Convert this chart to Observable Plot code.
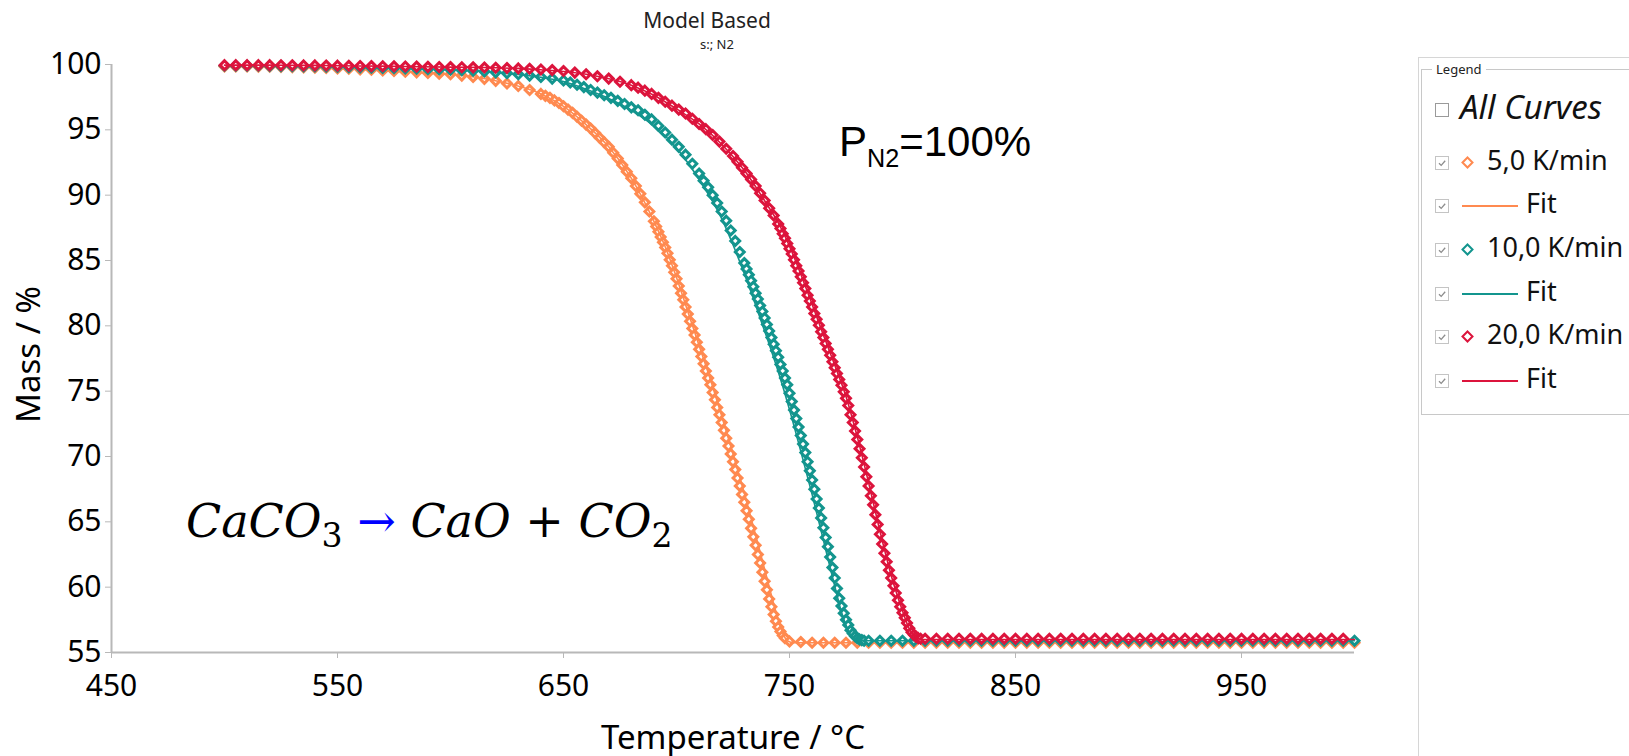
<!DOCTYPE html>
<html>
<head>
<meta charset="utf-8">
<script src="https://cdn.jsdelivr.net/npm/d3@7"></script>
<script src="https://cdn.jsdelivr.net/npm/@observablehq/plot@0.6"></script>
<style>
  html, body { margin: 0; padding: 0; background: #fff; overflow: hidden; }
  #wrap { position: relative; width: 1629px; height: 756px; font-family: "Noto Sans", "Open Sans", sans-serif; }
  #chart { position: absolute; left: 0; top: 0; }
  .abs { position: absolute; white-space: nowrap; }
  .abs svg { display: block; }
  .cb { position: absolute; width: 12px; height: 12px; border: 1px solid #c4c4c4; background: #fff; }
  .cb svg { position: absolute; left: 1px; top: 1px; display: block; }
  .item { position: absolute; font-size: 27px; color: #111; line-height: 1; white-space: nowrap; }
</style>
</head>
<body>
<div id="wrap">
  <div id="chart"></div>
  <div class="abs" id="title" style="left:557px; width:300px; top:6px; text-align:center; font-size:21px; color:#222;">Model Based</div>
  <div class="abs" id="subtitle" style="left:567px; width:300px; top:35px; text-align:center; font-size:13px; color:#222;">s:; N2</div>
  <div class="abs" id="pn2" style="left:839px; top:121px; font-family:'Liberation Sans', Arial, sans-serif; font-size:42px; line-height:1;">P<span style="font-size:0.6em; position:relative; top:0.45em;">N2</span>=100%</div>
  <div class="abs" id="eq" style="left:186px; top:498px; font-family:'DejaVu Serif', serif; font-size:46px; line-height:1; font-style:italic;">CaCO<span style="font-size:0.72em; font-style:normal; position:relative; top:0.3em;">3</span> <span style="color:#0000ff; font-style:normal;">→</span> CaO <span style="font-style:normal;">+</span> CO<span style="font-size:0.72em; font-style:normal; position:relative; top:0.3em;">2</span></div>
  <div id="legendPanel" class="abs" style="left:1418px; top:57px; width:220px; height:710px; border-left:1px solid #d6d6d6; border-top:1px solid #d6d6d6;"></div>
  <div id="legendBox" class="abs" style="left:1421px; top:69px; width:230px; height:344px; border:1px solid #c8c8c8;"></div>
  <div class="abs" style="left:1432px; top:60px; font-size:13px; background:#fff; padding:0 4px; color:#222;">Legend</div>
  <div id="legendItems"></div>
</div>
<script>
// ---- data ----
const seriesNames = ["5,0 K/min", "10,0 K/min", "20,0 K/min"];
const fitName = "Fit";
const allCurvesLabel = "All Curves";
const seriesColors = ["#FF8A50", "#13958E", "#DC143C"];
const xTicks = [450, 550, 650, 750, 850, 950];
const yTicks = [55, 60, 65, 70, 75, 80, 85, 90, 95, 100];
const xLabel = "Temperature / °C";
const yLabel = "Mass / %";

// 5,0 K/min measured points [T °C, mass %]
const rate5 = [
[500,99.85],[505,99.85],[510,99.85],[515,99.84],[520,99.83],[525,99.82],[530,99.8],[535,99.78],[540,99.76],[545,99.73],
[550,99.7],[555,99.67],[560,99.63],[565,99.6],[570,99.55],[575,99.5],[580,99.45],[585,99.4],[590,99.35],[595,99.3],
[600,99.25],[605,99.15],[610,99.05],[615,98.9],[620,98.75],[625,98.55],[630,98.35],[635,98.05],[640,97.75],
[642,97.6],[644,97.45],[646,97.25],[648,97.05],[650,96.8],[652,96.55],[654,96.3],[656,96.0],[658,95.7],[660,95.4],
[662,95.1],[664,94.75],[666,94.4],[668,94.05],[670,93.7],[672,93.25],[674,92.8],[676,92.3],[678,91.8],[680,91.3],
[682,90.7],[684,90.1],[686,89.45],[688,88.75],[690,88.0],
[691,87.6],[692,87.2],[693,86.8],[694,86.4],[695,86.0],[696,85.55],[697,85.05],[698,84.6],[699,84.1],[700,83.6],
[701,83.05],[702,82.5],[703,82.0],[704,81.45],[705,80.9],[706,80.35],[707,79.8],[708,79.3],[709,78.75],[710,78.2],
[711,77.65],[712,77.1],[713,76.55],[714,76.0],[715,75.5],[716,74.9],[717,74.35],[718,73.75],[719,73.2],[720,72.6],
[721,72.0],[722,71.4],[723,70.8],[724,70.2],[725,69.6],[726,69.0],[727,68.35],[728,67.75],[729,67.1],[730,66.5],
[731,65.85],[732,65.2],[733,64.5],[734,63.85],[735,63.2],[736,62.5],[737,61.85],[738,61.15],[739,60.45],[740,59.8],
[741,59.1],[742,58.5],[743,57.9],[744,57.4],[745,56.95],[746,56.6],[747,56.3],[748,56.1],
[750,55.85],[755,55.8],[760,55.75],[765,55.75],[770,55.75],[775,55.75],[780,55.75],[785,55.75],[790,55.75],[795,55.75],
[800,55.75],[805,55.75],[810,55.75],[815,55.75],[820,55.75],[825,55.75],[830,55.75],[835,55.75],[840,55.75],[845,55.75],
[850,55.75],[855,55.75],[860,55.75],[865,55.75],[870,55.75],[875,55.75],[880,55.75],[885,55.75],[890,55.75],[895,55.75],
[900,55.75],[905,55.75],[910,55.75],[915,55.75],[920,55.75],[925,55.75],[930,55.75],[935,55.75],[940,55.75],[945,55.75],
[950,55.75],[955,55.75],[960,55.75],[965,55.75],[970,55.75],[975,55.75],[980,55.75],[985,55.75],[990,55.75],[995,55.75],
[1000,55.75]
];
const fit5 = [
[500,99.85],[520,99.83],[540,99.76],[560,99.63],[580,99.45],[600,99.25],[620,98.75],[640,97.75],[650,96.8],[660,95.4],
[670,93.7],[680,91.3],[690,88.0],[695,86.05],[700,83.7],[705,81.1],[710,78.5],[715,75.9],[720,73.1],[725,70.2],
[730,67.2],[735,64.0],[740,60.7],[744,58.1],[747,56.5],[749,55.9],[752,55.75],[760,55.75],[800,55.75],[850,55.75],
[900,55.75],[950,55.75],[1000,55.75]
];

// 10,0 K/min measured points
const rate10 = [
[500,99.9],[505,99.9],[510,99.9],[515,99.9],[520,99.89],[525,99.88],[530,99.87],[535,99.86],[540,99.85],[545,99.84],
[550,99.82],[555,99.8],[560,99.78],[565,99.76],[570,99.74],[575,99.72],[580,99.7],[585,99.67],[590,99.64],[595,99.62],
[600,99.6],[605,99.56],[610,99.52],[615,99.46],[620,99.4],[625,99.33],[630,99.25],[635,99.15],[640,99.05],[645,98.92],[650,98.78],
[653,98.62],[656,98.45],[659,98.27],[662,98.05],[665,97.85],[668,97.65],[671,97.45],[674,97.22],[677,96.98],[680,96.72],
[683,96.5],[686,96.15],[689,95.8],[692,95.3],[695,94.8],[698,94.25],[701,93.7],[704,93.1],[707,92.4],[710,91.65],
[712,91.1],[714,90.6],[716,90.0],[718,89.4],[720,88.75],[722,88.05],[724,87.3],[726,86.5],[728,85.65],[730,84.8],
[731,84.35],[732,83.9],[733,83.45],[734,83.0],[735,82.5],[736,82.05],[737,81.55],[738,81.1],[739,80.6],[740,80.1],
[741,79.6],[742,79.1],[743,78.6],[744,78.1],[745,77.6],[746,77.05],[747,76.55],[748,76.0],[749,75.5],[750,74.85],
[751,74.2],[752,73.55],[753,72.9],[754,72.25],[755,71.6],[756,70.95],[757,70.3],[758,69.6],[759,68.9],[760,68.2],
[761,67.5],[762,66.75],[763,66.05],[764,65.3],[765,64.55],[766,63.8],[767,63.1],[768,62.3],[769,61.5],[770,60.7],
[771,59.9],[772,59.15],[773,58.55],[774,58.0],[775,57.5],[776,57.1],[777,56.7],[778,56.45],[779,56.25],[780,56.1],
[781,56.0],[782,55.95],[783,55.9],
[785,55.9],[790,55.9],[795,55.9],[800,55.9],[805,55.9],[810,55.9],[815,55.9],[820,55.9],[825,55.9],[830,55.9],
[835,55.9],[840,55.9],[845,55.9],[850,55.9],[855,55.9],[860,55.9],[865,55.9],[870,55.9],[875,55.9],[880,55.9],
[885,55.9],[890,55.9],[895,55.9],[900,55.9],[905,55.9],[910,55.9],[915,55.9],[920,55.9],[925,55.9],[930,55.9],
[935,55.9],[940,55.9],[945,55.9],[950,55.9],[955,55.9],[960,55.9],[965,55.9],[970,55.9],[975,55.9],[980,55.9],
[985,55.9],[990,55.9],[995,55.9],[1000,55.9]
];
const fit10 = [
[500,99.9],[520,99.89],[540,99.85],[560,99.78],[580,99.7],[600,99.6],[620,99.4],[640,99.02],[650,98.7],[660,98.1],
[670,97.4],[680,96.5],[690,95.3],[700,93.6],[710,91.2],[720,88.2],[725,86.2],[730,84.0],[735,81.6],[740,79.1],
[745,76.5],[750,73.6],[755,70.4],[760,67.1],[765,63.6],[770,60.1],[773,58.1],[776,56.7],[778,56.1],[780,55.9],
[785,55.9],[800,55.9],[850,55.9],[900,55.9],[950,55.9],[1000,55.9]
];

// 20,0 K/min measured points
const rate20 = [
[500,99.95],[505,99.95],[510,99.95],[515,99.95],[520,99.95],[525,99.94],[530,99.94],[535,99.93],[540,99.93],[545,99.92],
[550,99.91],[555,99.9],[560,99.89],[565,99.88],[570,99.87],[575,99.86],[580,99.85],[585,99.84],[590,99.82],[595,99.81],
[600,99.8],[605,99.79],[610,99.78],[615,99.77],[620,99.75],[625,99.73],[630,99.7],[635,99.67],[640,99.62],[645,99.57],
[650,99.5],[655,99.38],[660,99.25],[665,99.1],[670,98.92],[675,98.68],[680,98.42],
[683,98.23],[686,98.0],[689,97.75],[692,97.45],[695,97.15],[698,96.85],[701,96.55],[704,96.25],[707,95.85],[710,95.45],
[713,95.05],[716,94.6],[719,94.1],[722,93.55],[725,93.0],
[727,92.55],[729,92.1],[731,91.65],[733,91.2],[735,90.7],[737,90.15],[739,89.6],[741,89.0],[743,88.45],[745,87.8],
[746,87.45],[747,87.05],[748,86.7],[749,86.3],[750,85.9],[751,85.5],[752,85.05],[753,84.6],[754,84.2],[755,83.75],
[756,83.3],[757,82.85],[758,82.35],[759,81.9],[760,81.45],[761,80.95],[762,80.5],[763,80.05],[764,79.55],[765,79.1],
[766,78.65],[767,78.2],[768,77.75],[769,77.25],[770,76.8],[771,76.35],[772,75.9],[773,75.45],[774,74.95],[775,74.45],
[776,73.9],[777,73.2],[778,72.6],[779,71.95],[780,71.3],[781,70.6],[782,69.9],[783,69.2],[784,68.45],[785,67.75],
[786,67.0],[787,66.3],[788,65.55],[789,64.8],[790,64.05],[791,63.3],[792,62.6],[793,61.95],[794,61.3],[795,60.7],
[796,60.1],[797,59.55],[798,59.0],[799,58.5],[800,58.05],[801,57.65],[802,57.25],[803,56.85],[804,56.55],[805,56.35],
[806,56.2],[807,56.1],[808,56.05],
[810,56.05],[815,56.05],[820,56.05],[825,56.05],[830,56.05],[835,56.05],[840,56.05],[845,56.05],[850,56.05],[855,56.05],
[860,56.05],[865,56.05],[870,56.05],[875,56.05],[880,56.05],[885,56.05],[890,56.05],[895,56.05],[900,56.05],[905,56.05],
[910,56.05],[915,56.05],[920,56.05],[925,56.05],[930,56.05],[935,56.05],[940,56.05],[945,56.05],[950,56.05],[955,56.05],
[960,56.05],[965,56.05],[970,56.05],[975,56.05],[980,56.05],[985,56.05],[990,56.05],[995,56.05]
];
const fit20 = [
[500,99.95],[520,99.95],[540,99.93],[560,99.89],[580,99.85],[600,99.8],[620,99.75],[640,99.6],[660,99.25],[680,98.42],
[690,97.65],[700,96.6],[710,95.45],[720,93.9],[730,91.9],[740,89.3],[745,87.9],[750,86.1],[755,83.95],[760,81.65],
[765,79.3],[770,77.0],[775,74.6],[780,71.5],[785,68.0],[790,64.3],[795,60.9],[800,58.2],[803,56.8],[806,56.15],
[808,56.0],[812,56.0],[850,56.0],[900,56.0],[950,56.0],[1000,56.0]
];

const measured = [rate5, rate10, rate20];
const fits = [fit5, fit10, fit20];

// ---- chart ----
const seriesMarks = [];
measured.forEach((pts, i) => {
  seriesMarks.push(Plot.dot(pts, {x: d => d[0], y: d => d[1], symbol: "diamond2", r: 4,
    stroke: seriesColors[i], strokeWidth: 3, fill: "white"}));
  seriesMarks.push(Plot.line(fits[i], {x: d => d[0], y: d => d[1], stroke: seriesColors[i],
    strokeWidth: 1.6, curve: "monotone-x"}));
});

const chart = Plot.plot({
  width: 1400,
  height: 756,
  marginLeft: 111,
  marginRight: 46,
  marginTop: 64,
  marginBottom: 104,
  x: {domain: [450, 1000]},
  y: {domain: [55, 100]},
  style: {fontFamily: "'Noto Sans', 'Open Sans', sans-serif", fontSize: "30px", color: "#000", background: "transparent", overflow: "visible"},
  marks: [
    Plot.axisX({ticks: xTicks, tickSize: 6, tickPadding: 16, stroke: "#b8b8b8", fontSize: 30, label: null}),
    Plot.axisY({ticks: yTicks, tickSize: 6, tickPadding: 4, stroke: "#b8b8b8", fontSize: 30, label: null}),
    Plot.text([xLabel], {frameAnchor: "bottom", lineAnchor: "middle", dy: 86, fontSize: 33, text: d => d}),
    Plot.text([yLabel], {frameAnchor: "left", textAnchor: "middle", lineAnchor: "middle", dx: -82, dy: -4, rotate: -90, fontSize: 33, text: d => d}),
    Plot.ruleY([55], {stroke: "#b8b8b8", strokeWidth: 2}),
    Plot.ruleX([450], {stroke: "#b8b8b8", strokeWidth: 2}),
    ...seriesMarks
  ]
});
document.getElementById("chart").appendChild(chart);

// ---- legend ----
const legend = document.getElementById("legendItems");
function checkbox(x, cy, checked, border) {
  const el = document.createElement("div");
  el.className = "cb";
  el.style.left = x + "px";
  el.style.top = (cy - 7) + "px";
  if (border) el.style.borderColor = border;
  if (checked) el.innerHTML = '<svg width="10" height="10"><path d="M2 5.2 L4.2 7.4 L8.2 2.8" fill="none" stroke="#8c8c8c" stroke-width="1.3"/></svg>';
  legend.appendChild(el);
}
function text(x, cy, str, size, italic) {
  const el = document.createElement("div");
  el.className = "item";
  el.style.left = x + "px";
  el.style.top = (cy - size * 0.62) + "px";
  el.style.fontSize = size + "px";
  if (italic) el.style.fontStyle = "italic";
  el.textContent = str;
  legend.appendChild(el);
}
checkbox(1435, 110, false, "#9a9a9a");
text(1460, 110, allCurvesLabel, 33, true);
const rowY = [163, 206, 250, 294, 337, 381];
seriesNames.forEach((name, i) => {
  const y1 = rowY[2 * i], y2 = rowY[2 * i + 1];
  checkbox(1435, y1, true);
  const mk = document.createElement("div");
  mk.className = "abs";
  mk.style.left = "1461px";
  mk.style.top = (y1 - 7) + "px";
  mk.innerHTML = `<svg width="13" height="13"><polygon points="6.5,1.5 11.5,6.5 6.5,11.5 1.5,6.5" fill="white" stroke="${seriesColors[i]}" stroke-width="2"/></svg>`;
  legend.appendChild(mk);
  text(1487, y1, name, 27, false);
  checkbox(1435, y2, true);
  const ln = document.createElement("div");
  ln.className = "abs";
  ln.style.left = "1462px";
  ln.style.top = (y2 - 1) + "px";
  ln.style.width = "56px";
  ln.style.height = "2px";
  ln.style.background = seriesColors[i];
  legend.appendChild(ln);
  text(1526, y2, fitName, 27, false);
});
</script>
</body>
</html>
